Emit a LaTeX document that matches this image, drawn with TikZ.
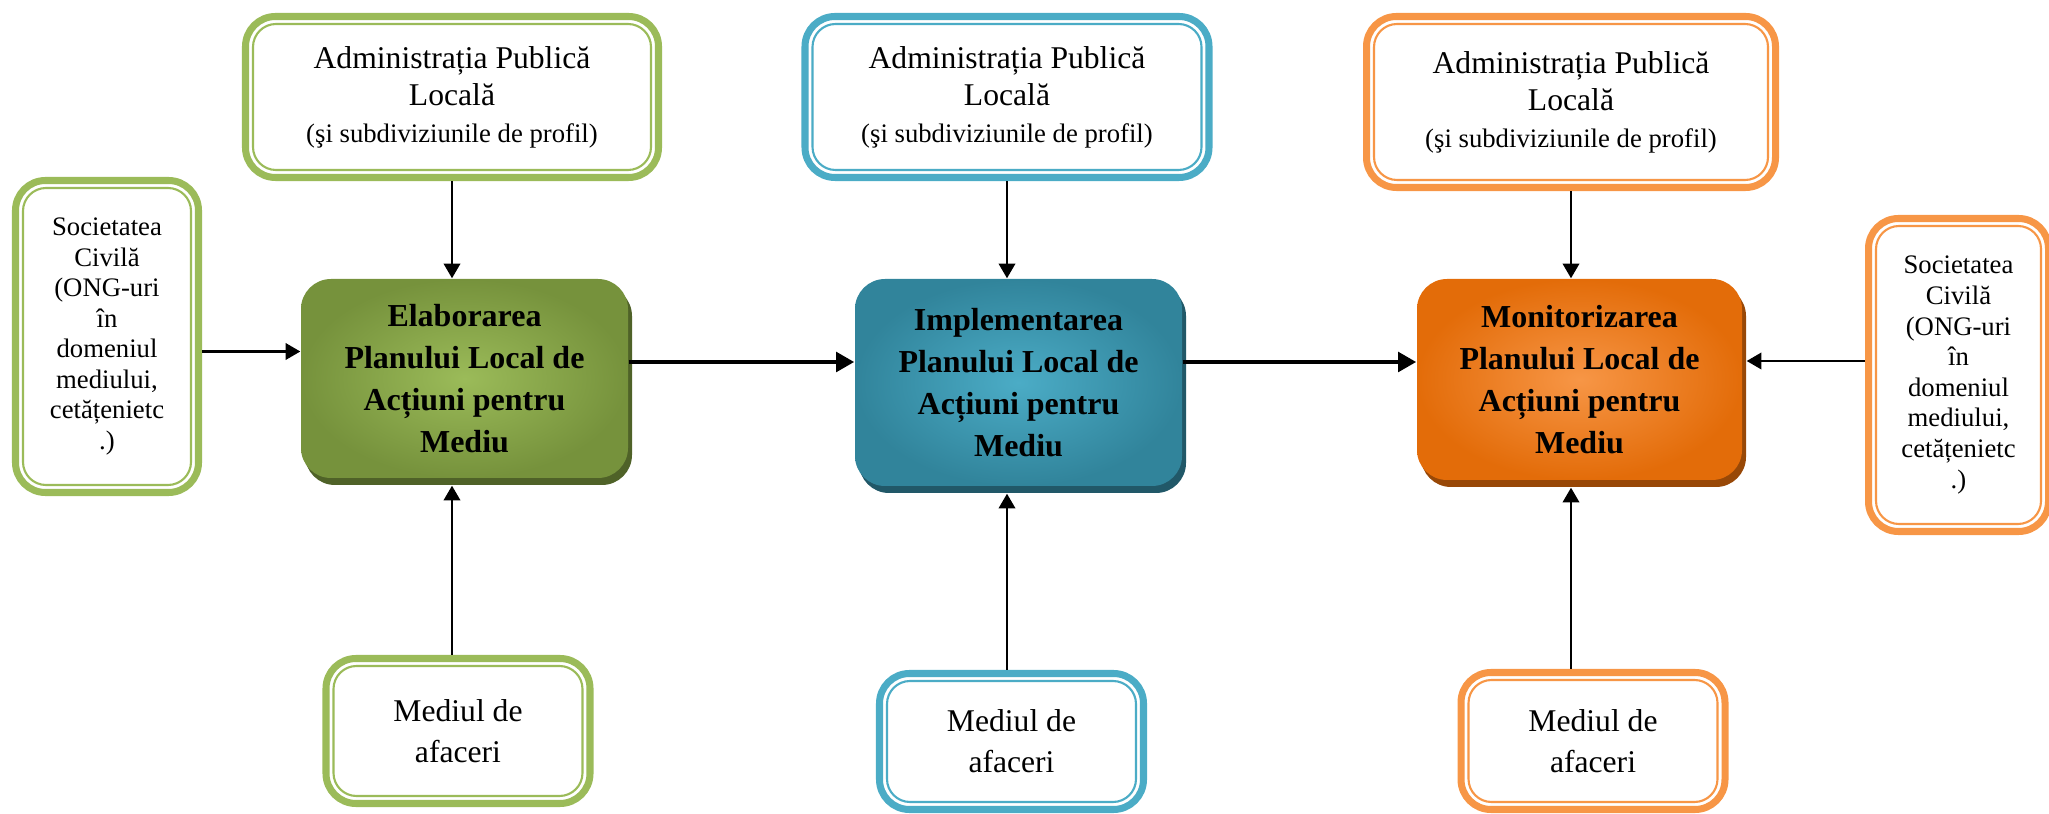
\documentclass[tikz,border=0pt]{standalone}
\usepackage{fontspec}
\setmainfont{Liberation Serif}
\usetikzlibrary{arrows.meta,shadows}

\definecolor{greenline}{HTML}{9BBB59}
\definecolor{greendark}{HTML}{76923C}
\definecolor{greenshadow}{HTML}{4F6228}
\definecolor{blueline}{HTML}{4BACC6}
\definecolor{bluedark}{HTML}{31849B}
\definecolor{blueshadow}{HTML}{215868}
\definecolor{orangeline}{HTML}{F79646}
\definecolor{orangedark}{HTML}{E36C09}
\definecolor{orangeshadow}{HTML}{984807}

\tikzset{
  actor/.style={draw=#1, line width=2pt, rounded corners=3mm, fill=white, align=center, inner sep=0pt,
    path picture={\draw[#1, line width=0.6pt, rounded corners=2.3mm]
      ([shift={(0.75mm,-0.75mm)}]path picture bounding box.north west) rectangle
      ([shift={(-0.75mm,0.75mm)}]path picture bounding box.south east);}},
  stage/.style n args={3}{rounded corners=3mm, inner color=#1, outer color=#2, align=center, inner sep=0pt,
    drop shadow={shadow xshift=0.4mm, shadow yshift=-0.7mm, fill=#3, opacity=1},
    font=\fontsize{9.1}{12}\selectfont\bfseries, minimum width=3.27cm},
  admin/.style={font=\fontsize{9}{10.5}\selectfont, minimum height=1.61cm},
  civil/.style={font=\fontsize{7.6}{8.7}\selectfont, minimum width=1.83cm, minimum height=3.12cm},
  business/.style={font=\fontsize{9}{11.7}\selectfont, minimum width=2.64cm},
  arr/.style={line width=0.65pt, -{Triangle[length=4.2pt,width=4.7pt]}},
  bigarr/.style={line width=1.4pt, -{Triangle[length=5.2pt,width=5.5pt]}},
}

\begin{document}
\begin{tikzpicture}
\useasboundingbox (0,0) rectangle (20.49,8.14);

% elaborare
\node[actor=greenline, admin, minimum width=4.13cm] (adminG) at (4.52,7.17)
  {Administrația Publică\\Locală\\{\fontsize{7.6}{9.7}\selectfont(şi subdiviziunile de profil)}};
\node[actor=greenline, civil] (socG) at (1.07,4.775)
  {Societatea\\Civilă\\(ONG-uri\\în\\domeniul\\mediului,\\cetățenietc\\.)};
\node[stage={greenline}{greendark}{greenshadow}, minimum height=1.99cm] (elab) at (4.645,4.355)
  {Elaborarea\\Planului Local de\\Acțiuni pentru\\Mediu};
\node[actor=greenline, business, minimum height=1.45cm] (medG) at (4.58,0.83) {Mediul de\\afaceri};

% implementare
\node[actor=blueline, admin, minimum width=4.04cm] (adminB) at (10.07,7.17)
  {Administrația Publică\\Locală\\{\fontsize{7.6}{9.7}\selectfont(şi subdiviziunile de profil)}};
\node[stage={blueline}{bluedark}{blueshadow}, minimum height=2.07cm] (impl) at (10.185,4.315)
  {Implementarea\\Planului Local de\\Acțiuni pentru\\Mediu};
\node[actor=blueline, business, minimum height=1.36cm] (medB) at (10.115,0.725) {Mediul de\\afaceri};

% monitorizare
\node[actor=orangeline, admin, minimum width=4.09cm, minimum height=1.71cm] (adminO) at (15.71,7.12)
  {Administrația Publică\\Locală\\{\fontsize{7.6}{9.7}\selectfont(şi subdiviziunile de profil)}};
\node[stage={orangeline}{orangedark}{orangeshadow}, minimum width=3.25cm, minimum height=2.01cm] (mon) at (15.795,4.345)
  {Monitorizarea\\Planului Local de\\Acțiuni pentru\\Mediu};
\node[actor=orangeline, civil, minimum width=1.80cm, minimum height=3.13cm] (socO) at (19.585,4.39)
  {Societatea\\Civilă\\(ONG-uri\\în\\domeniul\\mediului,\\cetățenietc\\.)};
\node[actor=orangeline, business, minimum height=1.37cm] (medO) at (15.93,0.73) {Mediul de\\afaceri};

% sageti
\draw[arr] (adminG) -- (adminG |- elab.north);
\draw[arr, shorten >=0.7mm] (medG.north -| adminG) -- (adminG |- elab.south);
\draw[arr] (adminB) -- (adminB |- impl.north);
\draw[arr, shorten >=0.7mm] (medB.north -| adminB) -- (adminB |- impl.south);
\draw[arr] (adminO) -- (adminO |- mon.north);
\draw[arr, shorten >=0.7mm] (medO.north -| adminO) -- (adminO |- mon.south);

\coordinate (sg) at ([yshift=-1.5mm]socG.east);
\draw[arr] (sg) -- (sg -| elab.west);
\coordinate (so) at ([yshift=1.4mm]socO.west);
\draw[arr, shorten >=0.4mm] (so) -- (so -| mon.east);

\coordinate (e1) at ([yshift=1.65mm]elab.east);
\draw[bigarr] (e1) -- (e1 -| impl.west);
\coordinate (e2) at ([yshift=2.05mm]impl.east);
\draw[bigarr] (e2) -- (e2 -| mon.west);
\end{tikzpicture}
\end{document}
